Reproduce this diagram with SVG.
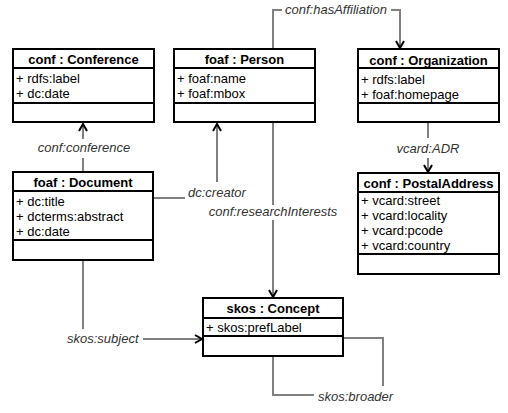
<svg xmlns="http://www.w3.org/2000/svg" width="508" height="413" viewBox="0 0 508 413">
<style>
.box{fill:#fff;stroke:#000;stroke-width:2}
.sep{stroke:#000;stroke-width:2}
.title{font-family:"Liberation Sans",Arial,sans-serif;font-size:13px;font-weight:bold;text-anchor:middle;fill:#000}
.attr{font-family:"Liberation Sans",Arial,sans-serif;font-size:13px;fill:#000}
.lbl{font-family:"Liberation Sans",Arial,sans-serif;font-size:13px;font-style:italic;fill:#333}
.conn{fill:none;stroke:#808080;stroke-width:2}
.connb{fill:none;stroke:#000;stroke-width:1.2}
</style>
<defs>
<marker id="arr" markerUnits="userSpaceOnUse" viewBox="-10 -6 12 12" refX="0" refY="0" markerWidth="12" markerHeight="12" orient="auto">
<path d="M-7,-4 L0,0 L-7,4" fill="none" stroke="#000" stroke-width="2"/>
</marker>
</defs>
<rect width="508" height="413" fill="#fff"/>
<g id="connectors">
<path class="conn" d="M83,172 V158 M83,139 V124" marker-end="url(#arr)"/>
<path class="conn" d="M153,198 H185 M217,182 V124" marker-end="url(#arr)"/>
<path class="conn" d="M273,49 V10 H282 M391,10 H400 V48" marker-end="url(#arr)"/>
<path class="conn" d="M428,123 V138 M428,158 V172" marker-end="url(#arr)"/>
<path class="conn" d="M273,123 V205 M273,220 V297" marker-end="url(#arr)"/>
<path class="conn" d="M83,261 V329"/>
<path class="connb" d="M143,339 H202" marker-end="url(#arr)"/>
<path class="conn" d="M273,357 V395 H314 M383,386 V338 H344"/>
<text class="lbl" x="84" y="152" text-anchor="middle">conf:conference</text>
<text class="lbl" x="188" y="197">dc:creator</text>
<text class="lbl" x="336" y="14" text-anchor="middle">conf:hasAffiliation</text>
<text class="lbl" x="428" y="153" text-anchor="middle">vcard:ADR</text>
<text class="lbl" x="273" y="216" text-anchor="middle">conf:researchInterests</text>
<text class="lbl" x="67" y="343">skos:subject</text>
<text class="lbl" x="318" y="401">skos:broader</text>
</g>
<g id="conference">
<rect class="box" x="13" y="49" width="141" height="73"/>
<line class="sep" x1="13" y1="68" x2="154" y2="68"/>
<line class="sep" x1="13" y1="103" x2="154" y2="103"/>
<text class="title" x="83.5" y="64">conf : Conference</text>
<text class="attr" x="16" y="83">+ rdfs:label</text>
<text class="attr" x="16" y="98">+ dc:date</text>
</g>
<g id="person">
<rect class="box" x="174" y="49" width="141" height="73"/>
<line class="sep" x1="174" y1="68" x2="315" y2="68"/>
<line class="sep" x1="174" y1="103" x2="315" y2="103"/>
<text class="title" x="244.5" y="64">foaf : Person</text>
<text class="attr" x="177" y="83">+ foaf:name</text>
<text class="attr" x="177" y="98">+ foaf:mbox</text>
</g>
<g id="organization">
<rect class="box" x="358" y="49" width="141" height="73"/>
<line class="sep" x1="358" y1="68" x2="499" y2="68"/>
<line class="sep" x1="358" y1="103" x2="499" y2="103"/>
<text class="title" x="428.5" y="65">conf : Organization</text>
<text class="attr" x="361" y="84">+ rdfs:label</text>
<text class="attr" x="361" y="99">+ foaf:homepage</text>
</g>
<g id="document">
<rect class="box" x="13" y="172" width="140" height="88"/>
<line class="sep" x1="13" y1="191" x2="153" y2="191"/>
<line class="sep" x1="13" y1="240" x2="153" y2="240"/>
<text class="title" x="83" y="187">foaf : Document</text>
<text class="attr" x="16" y="206">+ dc:title</text>
<text class="attr" x="16" y="221">+ dcterms:abstract</text>
<text class="attr" x="16" y="236">+ dc:date</text>
</g>
<g id="postaladdress">
<rect class="box" x="358" y="173" width="141" height="101"/>
<line class="sep" x1="358" y1="192" x2="499" y2="192"/>
<line class="sep" x1="358" y1="254" x2="499" y2="254"/>
<text class="title" x="428.5" y="188">conf : PostalAddress</text>
<text class="attr" x="361" y="205">+ vcard:street</text>
<text class="attr" x="361" y="220">+ vcard:locality</text>
<text class="attr" x="361" y="235">+ vcard:pcode</text>
<text class="attr" x="361" y="250">+ vcard:country</text>
</g>
<g id="concept">
<rect class="box" x="203" y="298" width="140" height="58"/>
<line class="sep" x1="203" y1="318" x2="343" y2="318"/>
<line class="sep" x1="203" y1="336" x2="343" y2="336"/>
<text class="title" x="273" y="313">skos : Concept</text>
<text class="attr" x="206" y="332">+ skos:prefLabel</text>
</g>
</svg>
